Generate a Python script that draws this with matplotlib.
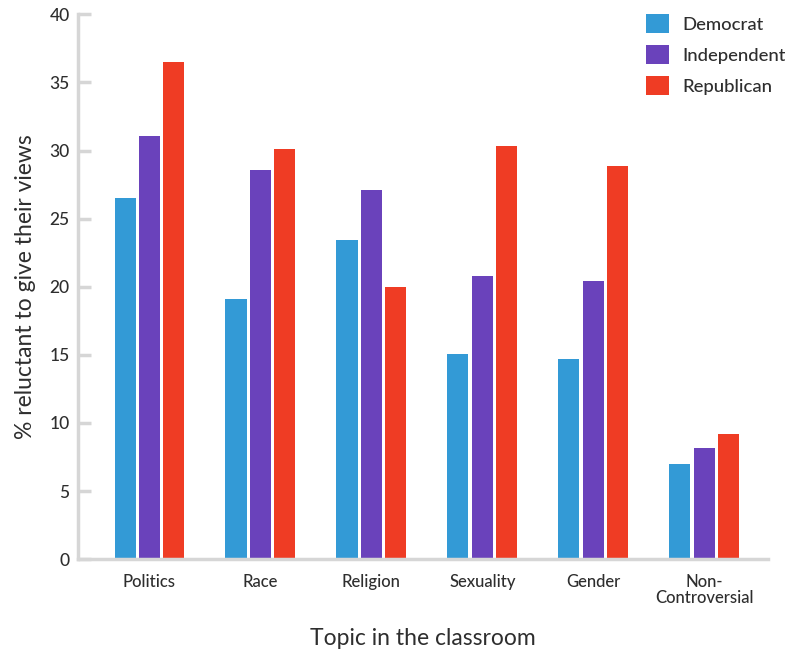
import numpy as np
import matplotlib
matplotlib.use("Agg")
import matplotlib.pyplot as plt
from matplotlib.patches import Patch

# Share of students reluctant to give their views, by party
topics = ["Politics", "Race", "Religion", "Sexuality", "Gender", "Non-\nControversial"]
democrat = [26.5, 19.1, 23.4, 15.1, 14.7, 7.0]
independent = [31.1, 28.6, 27.1, 20.8, 20.4, 8.2]
republican = [36.5, 30.1, 20.0, 30.3, 28.9, 9.2]
parties = ["Democrat", "Independent", "Republican"]
colors = ["#339AD6", "#6A42BB", "#EF3C24"]

plt.rcParams["font.family"] = ["Lato", "DejaVu Sans"]
plt.rcParams["font.weight"] = "medium"
text_color = "#2e2e2e"
axis_gray = "#d6d6d6"

fig = plt.figure(figsize=(7.85, 6.51), dpi=100)
ax = fig.add_axes([0.0994, 0.141, 0.8786, 0.837])

x = np.arange(len(topics))
step = 0.22
width = 0.19
for i, (vals, col) in enumerate(zip([democrat, independent, republican], colors)):
    ax.bar(x + (i - 1) * step, vals, width=width, color=col, zorder=2)

ax.set_xlim(-0.644, 5.572)
ax.set_ylim(0, 40)
ax.set_yticks(range(0, 41, 5))
ax.set_xticks(x)
ax.set_xticklabels(topics, fontsize=12, color=text_color, linespacing=0.95)

ax.tick_params(axis="y", direction="in", length=9, width=2.5, color=axis_gray,
               labelsize=12.5, labelcolor=text_color, pad=6)
ax.tick_params(axis="x", length=0, pad=11)

for side in ["top", "right"]:
    ax.spines[side].set_visible(False)
for side in ["left", "bottom"]:
    ax.spines[side].set_color(axis_gray)
    ax.spines[side].set_linewidth(2.5)

ax.set_ylabel("% reluctant to give their views", fontsize=16.5, color=text_color, labelpad=10)
ax.set_xlabel("Topic in the classroom", fontsize=16.5, color=text_color, labelpad=16)

handles = [Patch(facecolor=c, edgecolor="none") for c in colors]
fig.legend(handles, parties, loc="upper left", bbox_to_anchor=(646 / 785, 1 - 14 / 651),
           bbox_transform=fig.transFigure, frameon=False, fontsize=13.3,
           labelcolor=text_color, borderpad=0, borderaxespad=0,
           handlelength=1.24, handleheight=1.24, handletextpad=0.75, labelspacing=0.62)

fig.savefig("out.png", dpi=100)
